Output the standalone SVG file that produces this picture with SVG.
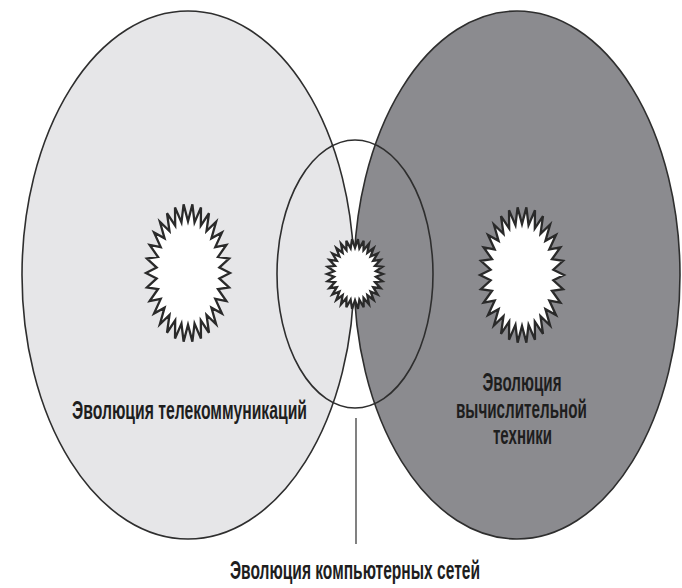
<svg xmlns="http://www.w3.org/2000/svg" xmlns:xlink="http://www.w3.org/1999/xlink" width="682" height="588" viewBox="0 0 682 588">
<style>
.big{stroke:#2e2e2e;stroke-width:1.6}
.star{fill:#fff;stroke:#2a2a2a;stroke-width:2.3;stroke-linejoin:miter}
.lbl{font-family:"Liberation Sans",Arial,sans-serif;font-weight:bold;font-size:26px;fill:#1e1e1e}
</style>
<defs>
<polygon id="star" vector-effect="non-scaling-stroke" points="100,0 74.59,7.84 97.82,20.79 71.33,23.18 91.36,40.67 64.95,37.5 80.9,58.78 55.74,50.18 66.91,74.31 44.08,60.68 50,86.6 30.51,68.52 30.9,95.11 15.59,73.36 10.45,99.45 0,75 -10.45,99.45 -15.59,73.36 -30.9,95.11 -30.51,68.52 -50,86.6 -44.08,60.68 -66.91,74.31 -55.74,50.18 -80.9,58.78 -64.95,37.5 -91.36,40.67 -71.33,23.18 -97.82,20.79 -74.59,7.84 -100,0 -74.59,-7.84 -97.82,-20.79 -71.33,-23.18 -91.36,-40.67 -64.95,-37.5 -80.9,-58.78 -55.74,-50.18 -66.91,-74.31 -44.08,-60.68 -50,-86.6 -30.51,-68.52 -30.9,-95.11 -15.59,-73.36 -10.45,-99.45 0,-75 10.45,-99.45 15.59,-73.36 30.9,-95.11 30.51,-68.52 50,-86.6 44.08,-60.68 66.91,-74.31 55.74,-50.18 80.9,-58.78 64.95,-37.5 91.36,-40.67 71.33,-23.18 97.82,-20.79 74.59,-7.84"/>
</defs>
<rect width="682" height="588" fill="#fff"/>
<g id="telecom">
<ellipse class="big" cx="188" cy="275" rx="166" ry="264" fill="#e6e6e8"/>
<use xlink:href="#star" class="star" transform="translate(188,273) scale(0.42,0.69)"/>
<text class="lbl" x="72" y="419" textLength="235" lengthAdjust="spacingAndGlyphs">Эволюция телекоммуникаций</text>
</g>
<g id="computing">
<ellipse class="big" cx="517" cy="275" rx="163" ry="264" fill="#8b8b8f"/>
<use xlink:href="#star" class="star" transform="translate(522,275) scale(0.42,0.68)"/>
<text class="lbl" x="522" y="391" text-anchor="middle" textLength="79" lengthAdjust="spacingAndGlyphs">Эволюция</text>
<text class="lbl" x="521.5" y="418" text-anchor="middle" textLength="131" lengthAdjust="spacingAndGlyphs">вычислительной</text>
<text class="lbl" x="522.5" y="444" text-anchor="middle" textLength="59" lengthAdjust="spacingAndGlyphs">техники</text>
</g>
<g id="networks">
<ellipse class="big" cx="355" cy="274" rx="78" ry="134" fill="none"/>
<use xlink:href="#star" class="star" transform="translate(355,274) scale(0.28,0.35)"/>
<text class="lbl" x="230" y="579" font-size="25" textLength="250" lengthAdjust="spacingAndGlyphs">Эволюция компьютерных сетей</text>
</g>
<g id="connectors">
<line x1="356" y1="418" x2="356" y2="544" stroke="#2e2e2e" stroke-width="1.2"/>
</g>
</svg>
